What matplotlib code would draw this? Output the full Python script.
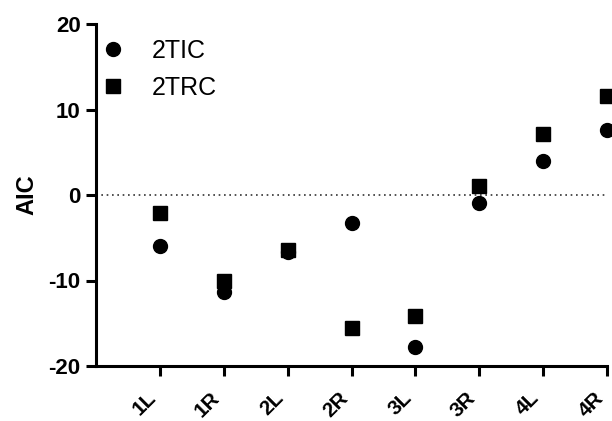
import matplotlib
matplotlib.use("Agg")
import matplotlib.pyplot as plt
import matplotlib.transforms as mtransforms

categories = ["1L", "1R", "2L", "2R", "3L", "3R", "4L", "4R"]
tic_2 = [-6.0, -11.3, -6.7, -3.3, -17.8, -0.9, 4.0, 7.6]
trc_2 = [-2.1, -10.1, -6.4, -15.6, -14.2, 1.1, 7.1, 11.6]
yticks = [-20, -10, 0, 10, 20]

plt.rcParams['font.family'] = ['Liberation Sans', 'DejaVu Sans']

fig = plt.figure(figsize=(6.12, 4.21), dpi=100)
ax = fig.add_axes([96/612, 1-366/421, (607-96)/612, (366-24)/421])

x = list(range(1, len(categories)+1))
ax.axhline(0, color='#333333', lw=1.2, ls=(0, (1, 2.2)), zorder=1)
ax.plot(x, tic_2, 'o', color='black', ms=10, label='2TIC', clip_on=False, zorder=3)
ax.plot(x, trc_2, 's', color='black', ms=9.5, label='2TRC', clip_on=False, zorder=3)

ax.set_xlim(0, 8)
ax.set_ylim(-20, 20)
ax.set_yticks(yticks)
ax.set_yticklabels([str(v) for v in yticks], fontsize=16, fontweight='bold')
ax.set_xticks(x)
ax.set_xticklabels(categories, fontsize=15, fontweight='bold', rotation=45,
                   ha='right', va='top')
offset = mtransforms.ScaledTranslation(3/100, 0, fig.dpi_scale_trans)
for lab in ax.get_xticklabels():
    lab.set_transform(lab.get_transform() + offset)

for s in ['top', 'right']:
    ax.spines[s].set_visible(False)
for s in ['left', 'bottom']:
    ax.spines[s].set_linewidth(2.2)
ax.tick_params(axis='y', direction='out', length=7, width=2.2, pad=4)
ax.tick_params(axis='x', direction='out', length=7, width=2.2, pad=9)

ax.set_ylabel('AIC', fontsize=17, fontweight='bold', labelpad=7)

fs = 18
ax.legend(loc='upper left', bbox_to_anchor=(7/511, 1 - 15/342), frameon=False,
          fontsize=fs, handlelength=0.8, handletextpad=1.16, borderaxespad=0,
          borderpad=0, labelspacing=0.52)

fig.savefig('out.png', dpi=100)
